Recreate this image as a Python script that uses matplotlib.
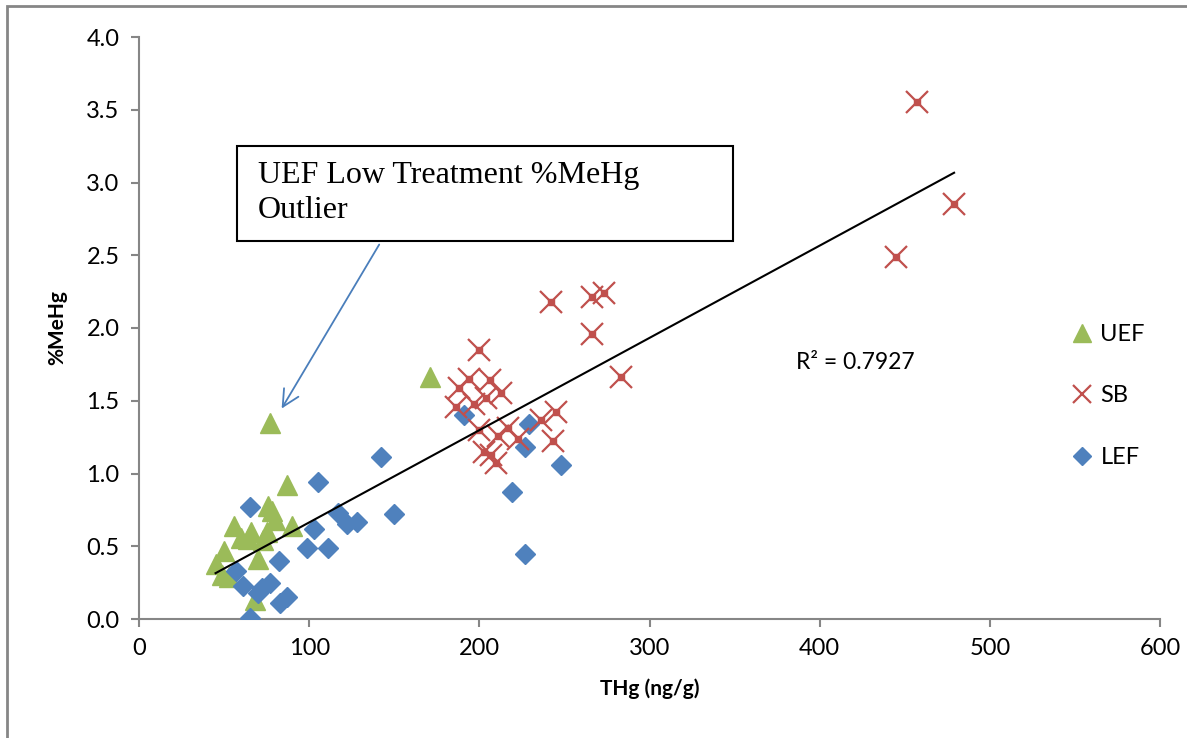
import numpy as np
import matplotlib.pyplot as plt
from matplotlib.patches import Rectangle

plt.rcParams['font.family'] = ['Lato', 'DejaVu Sans']

# THg (ng/g) and %MeHg per site
uef_thg = [45, 49, 50, 53, 56, 60, 64, 66, 68, 70, 73, 75, 76, 78, 80, 87, 90, 77, 171]
uef_mehg = [0.38, 0.30, 0.47, 0.29, 0.64, 0.56, 0.55, 0.60, 0.13, 0.41, 0.54, 0.60, 0.78, 0.74, 0.68, 0.92, 0.64, 1.35, 1.66]

sb_thg = [457, 479, 445, 242, 266, 273, 266, 283, 200, 194, 188, 206, 186, 197, 204, 213,
          200, 211, 217, 223, 236, 245, 243, 203, 207, 210]
sb_mehg = [3.55, 2.85, 2.49, 2.18, 2.21, 2.24, 1.96, 1.66, 1.85, 1.65, 1.59, 1.64, 1.46, 1.48, 1.52, 1.55,
           1.30, 1.26, 1.31, 1.24, 1.37, 1.42, 1.22, 1.15, 1.13, 1.07]

lef_thg = [57, 61, 65, 65, 70, 72, 77, 82, 83, 87, 99, 103, 105, 111, 117, 122, 128, 142, 150,
           191, 219, 227, 227, 229, 248]
lef_mehg = [0.33, 0.23, 0.77, 0.01, 0.18, 0.21, 0.25, 0.40, 0.11, 0.15, 0.49, 0.62, 0.94, 0.49, 0.73, 0.65, 0.67, 1.11, 0.72,
            1.40, 0.87, 0.45, 1.18, 1.34, 1.06]

green = '#9BBB59'
red = '#C0504D'
blue = '#4F81BD'
grey = '#868686'

fig = plt.figure(figsize=(11.87, 7.38), dpi=100)
ax = fig.add_axes([139/1187, 1-619/738, (1160-139)/1187, (619-37)/738])

ax.plot(uef_thg, uef_mehg, '^', color=green, ms=15, ls='none', label='UEF', zorder=3)
ax.plot(sb_thg, sb_mehg, 'x', color=red, ms=16, mew=1.6, ls='none', label='SB', zorder=4)
ax.plot(sb_thg, sb_mehg, 's', color=red, ms=4, ls='none', zorder=4)
ax.plot(lef_thg, lef_mehg, 'D', color=blue, ms=10.5, ls='none', label='LEF', zorder=3)

# linear trend over all points
all_x = np.array(uef_thg + sb_thg + lef_thg)
all_y = np.array(uef_mehg + sb_mehg + lef_mehg)
k, b = np.polyfit(all_x, all_y, 1)
xs = np.array([all_x.min(), all_x.max()])
ax.plot(xs, k*xs + b, color='black', lw=1.5, zorder=5)

ax.set_xlim(0, 600)
ax.set_ylim(0, 4.0)
ax.set_xticks(np.arange(0, 601, 100))
ax.set_yticks(np.arange(0, 4.01, 0.5))
ax.set_yticklabels([f'{v:.1f}' for v in np.arange(0, 4.01, 0.5)])
for s in ['top', 'right']:
    ax.spines[s].set_visible(False)
for s in ['left', 'bottom']:
    ax.spines[s].set_color(grey)
    ax.spines[s].set_linewidth(1.5)
ax.tick_params(colors=grey, labelcolor='black', labelsize=17, length=6, width=1.5, pad=8)
ax.set_xlabel('THg (ng/g)', fontsize=15, fontweight='bold', labelpad=14)
ax.set_ylabel('%MeHg', fontsize=15, fontweight='bold', labelpad=14)

ax.text(386, 1.72, 'R² = 0.7927', fontsize=16.5)

ax.legend(loc='upper left', bbox_to_anchor=(1058/1187, 1-312/738), bbox_transform=fig.transFigure,
          frameon=False, fontsize=17, labelspacing=1.72, handlelength=1.0, handletextpad=0.3,
          borderpad=0, markerscale=0.85)

ax.annotate('', xy=(83, 1.43), xytext=(142, 2.59),
            arrowprops=dict(arrowstyle='->', color='#4A7EBB', lw=1.3, mutation_scale=30))
fig.add_artist(Rectangle((237/1187, 1-241/738), (733-237)/1187, 95/738, transform=fig.transFigure,
                         fc='white', ec='black', lw=1.5, zorder=6))
fig.text(258/1187, 1-193/738, 'UEF Low Treatment %MeHg\nOutlier', family='Liberation Serif',
         fontsize=23, va='center', ha='left', linespacing=1.25, zorder=7)

fig.add_artist(Rectangle((7/1187, -0.1), 1.2, 1-6/738+0.1, transform=fig.transFigure,
                         fill=False, ec=grey, lw=2))

fig.savefig('out.png', dpi=100)
